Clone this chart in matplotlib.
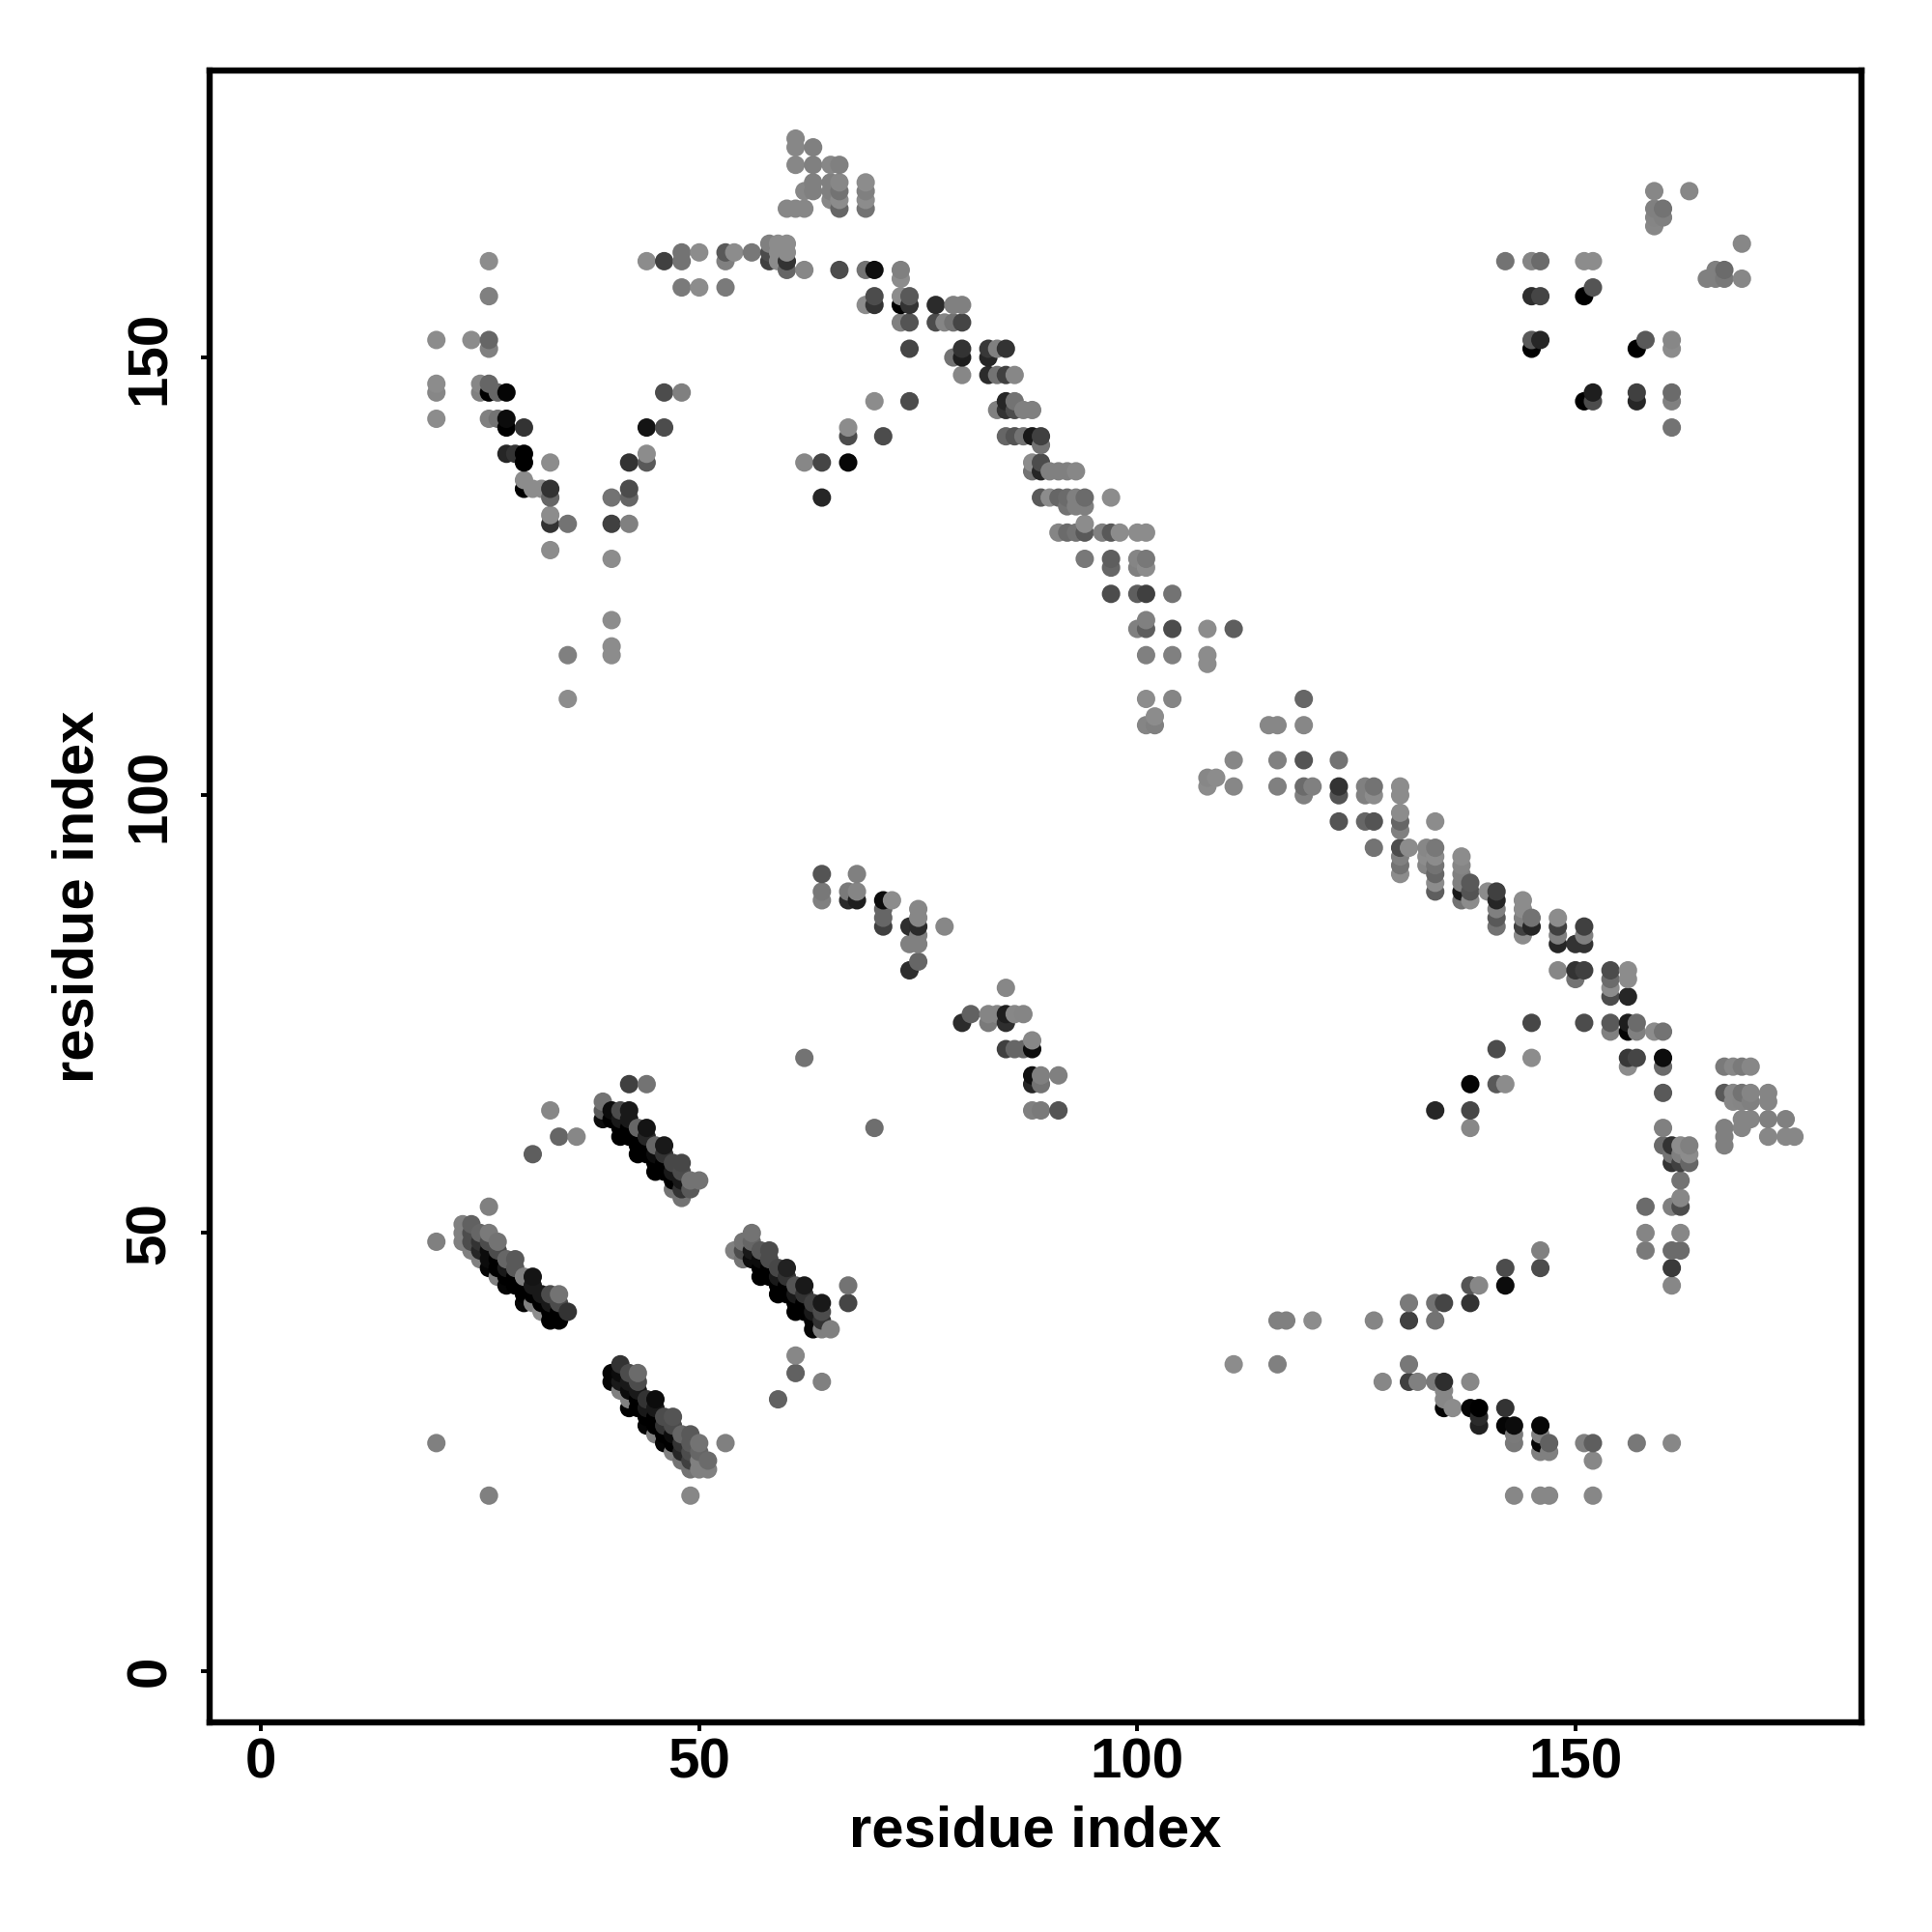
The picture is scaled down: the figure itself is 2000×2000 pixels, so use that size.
"""Residue contact map: every contact one dot, shade from black (strong) to grey (weak)."""

import matplotlib

matplotlib.use("Agg")
import matplotlib.pyplot as plt
import pandas as pd

plt.rcParams["font.family"] = ["Liberation Sans", "DejaVu Sans"]
plt.rcParams["font.weight"] = "bold"

TICKS = [0, 50, 100, 150]
AXIS_LABEL = "residue index"

# (residue x, residue y, grey level), one list per region
left_arm = [
    (20, 152, .55), (20, 147, .55), (20, 146, .53), (20, 143, .55), (24, 152, .55), (25, 147, .53),
    (25, 146, .5), (26, 161, .55), (26, 157, .5), (26, 152, .4), (26, 151, .5), (26, 147, .4),
    (26, 146, 0), (26, 143, .5), (27, 146, .4), (27, 143, .45), (28, 146, .02), (28, 143, .05),
    (28, 142, 0), (28, 139, .15), (29, 139, .2), (30, 142, .2), (30, 139, 0), (30, 138, 0),
    (30, 136, .55), (30, 135, 0), (31, 135, .55), (32, 135, .55), (33, 138, .55), (33, 135, .2),
    (33, 134, .4), (33, 132, .55), (33, 131, .2), (33, 128, .55), (35, 131, .45), (35, 116, .5),
    (35, 111, .55), (40, 134, .45), (40, 131, .25), (40, 127, .55), (40, 120, .55), (40, 117, .55),
    (40, 116, .55), (42, 138, .2), (42, 135, .3), (42, 134, .4), (42, 131, .5), (44, 142, .08),
    (44, 139, .55), (44, 138, .35), (46, 146, .3), (46, 142, .3), (48, 146, .5),
]
top_strand = [
    (44, 161, .55), (46, 161, .25), (48, 162, .45), (48, 161, .45), (48, 158, .48), (50, 162, .55),
    (50, 158, .55), (53, 162, .35), (53, 161, .5), (53, 158, .48), (54, 162, .55), (56, 162, .47),
    (58, 163, .5), (58, 162, .3), (58, 161, .25), (59, 163, .55), (59, 162, .55), (59, 161, .55),
    (60, 163, .55), (60, 162, .55), (60, 161, .2), (60, 160, .4), (62, 160, .53), (66, 160, .3),
    (69, 160, .45), (70, 160, .06), (73, 160, .5), (73, 159, .55), (60, 167, .53), (61, 175, .53),
    (61, 174, .53), (61, 172, .53), (61, 167, .53), (62, 169, .53), (62, 167, .53), (63, 174, .5),
    (63, 172, .5), (63, 170, .5), (63, 169, .5), (65, 172, .53), (65, 170, .5), (65, 169, .5),
    (65, 168, .53), (66, 172, .5), (66, 170, .53), (66, 169, .45), (66, 168, .55), (66, 167, .4),
    (69, 170, .55), (69, 169, .5), (69, 168, .55), (69, 167, .45),
]
upper_side = [
    (62, 138, .53), (64, 138, .27), (64, 134, .15), (67, 142, .55), (67, 141, .3), (67, 138, .03),
    (70, 145, .55), (71, 141, .3), (74, 145, .3), (69, 156, .55), (70, 157, .3), (70, 156, .2),
    (73, 157, .55), (73, 156, 0), (73, 154, .5), (74, 157, .35), (74, 156, .2), (74, 154, .33),
    (74, 151, .27),
]
main_diagonal = [
    (77, 156, .17), (77, 154, .3), (78, 154, .52), (79, 156, .5), (79, 154, .45), (79, 150, .45),
    (80, 156, .5), (80, 154, .27), (80, 151, .2), (80, 150, .12), (80, 148, .53), (83, 151, .22),
    (83, 150, .15), (83, 148, .17), (84, 151, .5), (84, 148, .45), (84, 144, .5), (85, 151, .2),
    (85, 148, .25), (85, 145, .15), (85, 144, .2), (85, 141, .4), (86, 148, .53), (86, 145, .45),
    (86, 144, .3), (86, 141, .33), (87, 144, .5), (87, 141, .45), (88, 144, .5), (88, 141, .1),
    (88, 138, .55), (88, 137, .45), (89, 141, .25), (89, 140, .45), (89, 138, .3), (89, 137, .15),
    (89, 134, .35), (90, 137, .5), (90, 134, .55), (91, 137, .5), (91, 134, .4), (91, 130, .52),
    (92, 137, .5), (92, 134, .42), (92, 133, .45), (92, 130, .42), (93, 137, .53), (93, 134, .5),
    (93, 133, .5), (93, 130, .45), (94, 134, .42), (94, 133, .5), (94, 131, .55), (94, 130, .35),
    (94, 127, .47), (96, 130, .5), (97, 134, .55), (97, 130, .35), (97, 127, .37), (97, 126, .4),
    (97, 123, .3), (98, 130, .55), (100, 130, .55), (100, 127, .52), (100, 126, .5), (100, 123, .37),
    (100, 119, .5), (101, 130, .55), (101, 127, .47), (101, 126, .55), (101, 123, .25), (101, 120, .5),
    (101, 119, .37), (101, 116, .5), (101, 111, .55), (101, 108, .52), (102, 109, .55), (102, 108, .5),
    (104, 123, .45), (104, 119, .3), (104, 116, .5), (104, 111, .52), (108, 119, .55), (108, 116, .55),
    (108, 115, .55), (108, 102, .53), (108, 101, .55), (109, 102, .55), (111, 119, .37), (111, 104, .53),
    (111, 101, .53), (115, 108, .53), (116, 108, .53), (116, 104, .5), (116, 101, .5), (119, 111, .4),
    (119, 108, .53), (119, 104, .33), (119, 101, .42), (119, 100, .5), (120, 101, .5), (123, 104, .45),
    (123, 101, .2), (123, 100, .33), (123, 97, .33), (126, 101, .5), (126, 100, .5), (126, 97, .4),
    (127, 101, .45), (127, 100, .55), (127, 97, .33), (127, 94, .45), (130, 101, .55), (130, 100, .55),
    (130, 98, .55), (130, 97, .4), (130, 96, .5), (130, 94, .3), (130, 93, .5), (130, 92, .45),
    (130, 91, .55), (131, 94, .55), (133, 94, .53), (133, 93, .55), (133, 92, .52), (134, 97, .55),
    (134, 94, .47), (134, 93, .55), (134, 92, .45), (134, 91, .4), (134, 90, .55), (134, 89, .37),
]
lower_diagonal = [
    (137, 93, .55), (137, 92, .52), (137, 91, .5), (137, 90, .5), (137, 89, .1), (137, 88, .45),
    (138, 90, .35), (138, 89, .33), (138, 88, .55), (140, 89, .55), (141, 89, .25), (141, 88, .15),
    (141, 87, .5), (141, 86, .35), (141, 85, .45), (144, 88, .55), (144, 87, .55), (144, 86, .5),
    (144, 85, .25), (144, 84, .55), (145, 86, .45), (145, 85, .15), (148, 86, .55), (148, 85, .25),
    (148, 84, .5), (148, 83, .15), (148, 80, .53), (150, 83, .2), (150, 80, .2), (150, 79, .45),
    (151, 85, .25), (151, 84, .5), (151, 83, .2), (151, 80, .25), (154, 80, .3), (154, 79, .42),
    (154, 78, .55), (154, 77, .3), (154, 74, .35), (154, 73, .5), (156, 80, .55), (156, 79, .55),
    (156, 77, .15), (156, 74, .12), (156, 73, .02), (156, 70, .22), (156, 69, .55), (157, 74, .42),
    (157, 73, .5), (157, 70, .27), (159, 73, .55), (160, 73, .45), (160, 70, .05), (160, 69, .42),
    (160, 66, .35), (160, 62, .5), (160, 60, .42), (161, 60, .2), (161, 59, .45), (161, 58, .2),
    (162, 60, .55), (162, 59, .5), (162, 58, .25), (162, 56, .45), (162, 54, .53), (162, 53, .3),
    (163, 60, .5), (163, 59, .55), (163, 58, .4), (161, 53, .5), (158, 53, .42), (158, 50, .52),
    (162, 50, .53), (158, 48, .48), (161, 48, .42), (162, 48, .42), (161, 46, .23), (161, 44, .53),
]
far_right = [
    (167, 69, .48), (168, 69, .53), (169, 69, .48), (170, 69, .53), (167, 66, .35), (168, 66, .53),
    (169, 66, .45), (170, 66, .52), (172, 66, .52), (168, 65, .53), (169, 65, .52), (170, 65, .5),
    (172, 65, .52), (169, 63, .52), (170, 63, .52), (172, 63, .5), (174, 63, .5), (167, 62, .5),
    (169, 62, .52), (167, 61, .5), (172, 61, .53), (174, 61, .53), (175, 61, .53), (167, 60, .5),
]
right_side = [
    (141, 71, .3), (141, 67, .35), (142, 67, .55), (138, 67, .02), (145, 74, .28), (145, 70, .55),
    (151, 74, .3), (134, 64, .15), (138, 64, .28), (138, 62, .53),
]
top_right = [
    (159, 169, .53), (163, 169, .53), (159, 167, .5), (160, 167, .45), (159, 166, .52), (160, 166, .5),
    (159, 165, .53), (169, 163, .53), (169, 159, .53), (165, 159, .5), (166, 160, .5), (166, 159, .5),
    (167, 160, .42), (167, 159, .47), (142, 161, .45), (145, 161, .52), (146, 161, .42), (151, 161, .55),
    (152, 161, .55), (145, 157, .18), (146, 157, .27), (151, 157, 0), (152, 158, .33), (145, 152, .35),
    (146, 152, .15), (145, 151, 0), (157, 151, 0), (158, 152, .35), (161, 152, .53), (161, 151, .55),
    (151, 145, 0), (152, 146, .12), (152, 145, .3), (157, 146, .25), (157, 145, .15), (161, 146, .42),
    (161, 145, .5), (161, 142, .45),
]
middle_strand = [
    (64, 91, .33), (68, 91, .5), (64, 89, .47), (64, 88, .5), (67, 89, .48), (68, 89, .52),
    (67, 88, .17), (68, 88, .12), (71, 88, .05), (72, 88, .55), (71, 87, .4), (71, 86, .4),
    (71, 85, .25), (75, 87, .53), (75, 86, .53), (74, 85, .18), (75, 85, .17), (78, 85, .53),
    (75, 84, .5), (74, 83, .5), (75, 83, .5), (75, 81, .4), (74, 80, .18), (85, 78, .53),
    (80, 74, .17), (81, 75, .38), (83, 75, .52), (84, 75, .52), (83, 74, .48), (85, 75, .12),
    (85, 74, .18), (86, 75, .53), (87, 75, .52), (85, 71, .25), (86, 71, .4), (87, 71, .4),
    (88, 71, .05), (88, 72, .53), (88, 68, .07), (89, 68, .5), (91, 68, .5), (88, 67, .15),
    (89, 67, .45), (88, 64, .5), (89, 64, .48), (91, 64, .33), (62, 70, .45), (70, 62, .43),
]
lower_right = [
    (138, 44, .33), (139, 44, .53), (142, 44, .05), (131, 42, .48), (134, 42, .45), (135, 42, .27),
    (138, 42, .2), (142, 46, .3), (146, 48, .5), (146, 46, .3), (116, 40, .5), (117, 40, .5),
    (120, 40, .55), (127, 40, .52), (131, 40, .25), (134, 40, .45), (111, 35, .55), (116, 35, .5),
    (131, 35, .47), (128, 33, .53), (131, 33, .25), (132, 33, .5), (134, 33, .48), (135, 33, .18),
    (138, 33, .53), (135, 32, .53), (135, 31, .53), (135, 30, .02), (136, 30, .55), (138, 30, .02),
    (139, 30, 0), (142, 30, .2), (139, 29, .17), (139, 28, .13), (142, 28, .02), (143, 28, .05),
    (146, 28, .03), (143, 27, .48), (143, 26, .47), (146, 27, .5), (146, 26, .02), (147, 26, .38),
    (146, 25, .5), (147, 25, .5), (151, 26, .5), (152, 26, .37), (157, 26, .47), (161, 26, .53),
    (152, 24, .53), (143, 20, .53), (146, 20, .53), (147, 20, .53), (152, 20, .53),
]
lower_left_loose = [
    (20, 49, .5), (26, 53, .5), (20, 26, .5), (26, 20, .5), (49, 20, .53), (53, 26, .5),
    (33, 64, .53), (34, 61, .4), (36, 61, .53), (31, 59, .37), (42, 67, .25), (44, 67, .45),
    (67, 44, .45), (67, 42, .27), (61, 36, .53), (61, 34, .38), (64, 33, .5), (59, 31, .38),
]
band_a = [
    (23, 51, .5), (23, 50, .5), (23, 49, .5), (24, 51, .38), (24, 50, .3), (24, 49, .3),
    (24, 48, .5), (25, 50, .4), (25, 49, .2), (25, 48, .15), (25, 47, .5), (26, 50, .48),
    (26, 49, .3), (26, 48, .05), (26, 47, .05), (26, 46, .02), (27, 49, .45), (27, 48, .3),
    (27, 47, 0), (27, 46, 0), (27, 45, .5), (28, 47, .4), (28, 46, .1), (28, 45, 0),
    (28, 44, .02), (29, 47, .35), (29, 46, .35), (29, 45, 0), (29, 44, 0), (30, 45, .5),
    (30, 44, 0), (30, 43, 0), (30, 42, .02), (31, 45, .08), (31, 44, .1), (31, 43, 0),
    (31, 42, .5), (32, 43, .1), (32, 42, 0), (32, 41, .55), (33, 43, .3), (33, 42, .1),
    (33, 41, 0), (33, 40, 0), (34, 43, .45), (34, 42, .3), (34, 41, 0), (34, 40, 0),
    (35, 41, .2),
]
band_b = [
    (39, 65, .45), (39, 64, .35), (39, 63, .05), (40, 64, .05), (40, 63, 0), (41, 64, .3),
    (41, 63, .1), (41, 62, 0), (41, 61, 0), (42, 64, .1), (42, 63, .1), (42, 62, 0),
    (42, 61, 0), (43, 62, .4), (43, 61, 0), (43, 60, 0), (43, 59, 0), (44, 62, .08),
    (44, 61, .15), (44, 60, 0), (44, 59, 0), (45, 60, .4), (45, 59, .05), (45, 58, 0),
    (45, 57, 0), (46, 60, .1), (46, 59, .2), (46, 58, 0), (46, 57, 0), (47, 58, .28),
    (47, 57, .1), (47, 56, 0), (47, 55, .45), (48, 58, .28), (48, 57, .3), (48, 56, .1),
    (48, 55, .2), (48, 54, .45), (49, 56, .45), (49, 55, .35), (50, 56, .45),
]
band_c = [
    (54, 48, .5), (55, 49, .45), (55, 48, .3), (55, 47, .45), (56, 50, .45), (56, 49, .4),
    (56, 48, .1), (56, 47, .05), (57, 48, .35), (57, 47, .05), (57, 46, 0), (57, 45, 0),
    (58, 48, .3), (58, 47, .3), (58, 46, 0), (58, 45, 0), (59, 46, .28), (59, 45, .1),
    (59, 44, 0), (59, 43, 0), (60, 46, .13), (60, 45, .2), (60, 44, 0), (60, 43, 0),
    (61, 44, .33), (61, 43, .1), (61, 42, 0), (61, 41, 0), (62, 44, .1), (62, 43, .2),
    (62, 42, 0), (62, 41, 0), (63, 42, .25), (63, 41, .1), (63, 40, .02), (63, 39, .02),
    (64, 42, .1), (64, 41, .3), (64, 40, .2), (64, 39, .5), (65, 39, .5),
]
band_d = [
    (40, 34, .02), (40, 33, .02), (41, 35, .2), (41, 34, .05), (41, 33, .1), (41, 32, .5),
    (42, 34, .3), (42, 33, .1), (42, 32, .05), (42, 31, .5), (42, 30, 0), (43, 34, .42),
    (43, 33, .3), (43, 32, .1), (43, 31, 0), (43, 30, 0), (44, 31, .2), (44, 30, .1),
    (44, 29, 0), (44, 28, .02), (45, 31, .05), (45, 30, .1), (45, 29, 0), (45, 28, 0),
    (45, 27, .5), (46, 29, .3), (46, 28, .2), (46, 27, 0), (46, 26, .02), (47, 29, .33),
    (47, 28, .3), (47, 27, .05), (47, 26, 0), (47, 25, .5), (48, 27, .4), (48, 26, .2),
    (48, 25, .15), (48, 24, .45), (49, 27, .35), (49, 26, .35), (49, 25, .3), (49, 24, .25),
    (49, 23, .45), (50, 26, .45), (50, 25, .4), (50, 24, .5), (50, 23, .5), (51, 24, .42),
    (51, 23, .5),
]

regions = [left_arm, top_strand, upper_side, main_diagonal, lower_diagonal, far_right, right_side,
           top_right, middle_strand, lower_right, lower_left_loose, band_a, band_b, band_c, band_d]
df = pd.DataFrame([p for r in regions for p in r], columns=["x", "y", "grey"])
# the source draws in residue order, so later residues sit on top
df = df.drop_duplicates(["x", "y"]).sort_values(["x", "y"])

fig = plt.figure(figsize=(10, 10), dpi=200)
ax = fig.add_axes([0.1084, 0.1085, 0.8551, 0.8551])
ax.scatter(df["x"], df["y"], c=df["grey"], cmap="gray", vmin=0, vmax=1, s=47, linewidths=0)
ax.set_xlim(-5.9, 182.65)
ax.set_ylim(-5.9, 182.8)

ax.set_xticks(TICKS, [str(t) for t in TICKS])
ax.set_yticks(TICKS, [str(t) for t in TICKS])
ax.tick_params(length=3.2, width=1.4, labelsize=21)
ax.tick_params(axis="x", pad=2.5)
ax.tick_params(axis="y", pad=9)
plt.setp(ax.get_yticklabels(), rotation=90, va="center")
for spine in ax.spines.values():
    spine.set_linewidth(2.3)

ax.set_xlabel(AXIS_LABEL, fontsize=21.5, fontweight="bold")
ax.set_ylabel(AXIS_LABEL, fontsize=21.5, fontweight="bold")
ax.xaxis.set_label_coords(0.5, -0.05)
ax.yaxis.set_label_coords(-0.0633, 0.5)

fig.savefig("out.png", dpi=200)
